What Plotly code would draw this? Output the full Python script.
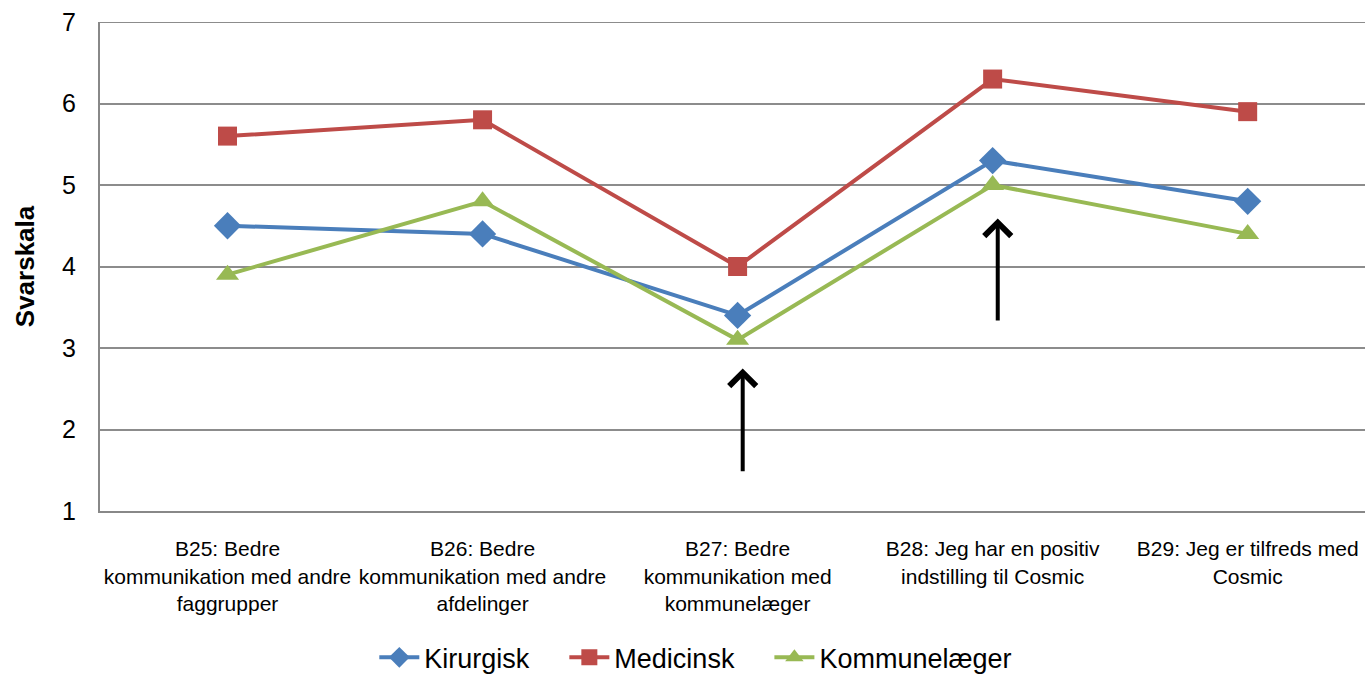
import plotly.graph_objects as go

categories = [
    "B25: Bedre<br>kommunikation med andre<br>faggrupper",
    "B26: Bedre<br>kommunikation med andre<br>afdelinger",
    "B27: Bedre<br>kommunikation med<br>kommunelæger",
    "B28: Jeg har en positiv<br>indstilling til Cosmic",
    "B29: Jeg er tilfreds med<br>Cosmic",
]
series_names = ["Kirurgisk", "Medicinsk", "Kommunelæger"]
kirurgisk = [4.5, 4.4, 3.4, 5.3, 4.8]
medicinsk = [5.6, 5.8, 4.0, 6.3, 5.9]
kommunelaeger = [3.9, 4.8, 3.1, 5.0, 4.4]
y_ticks = [1, 2, 3, 4, 5, 6, 7]

# arrows: (x index, tail y, tip y)
arrows = [(2.02, 1.47, 2.75), (3.02, 3.32, 4.59)]

xs = list(range(len(categories)))
pad = "\u00a0" * 4

fig = go.Figure()
fig.add_trace(go.Scatter(x=xs, y=kirurgisk, name=series_names[0] + pad, mode="lines+markers",
                         line=dict(color="#4A7EBB", width=4),
                         marker=dict(symbol="diamond", size=21, color="#4A7EBB")))
fig.add_trace(go.Scatter(x=xs, y=medicinsk, name=series_names[1] + pad, mode="lines+markers",
                         line=dict(color="#BE4B48", width=4),
                         marker=dict(symbol="square", size=19, color="#BE4B48")))
fig.add_trace(go.Scatter(x=xs, y=kommunelaeger, name=series_names[2], mode="lines+markers",
                         line=dict(color="#98B954", width=4),
                         marker=dict(symbol="triangle-up", size=20, color="#98B954")))

for ax_x, tail, tip in arrows:
    fig.add_annotation(x=ax_x, y=tip, ax=ax_x, ay=tail, xref="x", yref="y",
                       axref="x", ayref="y", showarrow=True, arrowhead=4,
                       arrowsize=1.3, arrowwidth=4, arrowcolor="black", text="")

# top gridline at the range end (plotly omits the gridline at the exact edge)
fig.add_shape(type="line", xref="paper", yref="y", x0=0, x1=1, y0=y_ticks[-1], y1=y_ticks[-1],
              line=dict(color="#8c8c8c", width=2), layer="below")

fig.update_layout(
    width=1365, height=676,
    margin=dict(l=100, r=0, t=22, b=165),
    paper_bgcolor="white", plot_bgcolor="white",
    font=dict(family="Liberation Sans, Arial, sans-serif", color="black"),
    showlegend=True,
    legend=dict(orientation="h", x=0.471, xanchor="center",
                yref="container", y=0.027, yanchor="middle",
                font=dict(size=27), itemwidth=40, tracegroupgap=0),
)
fig.update_xaxes(
    tickmode="array", tickvals=xs, ticktext=categories,
    range=[-0.5, 4.46], showgrid=False, zeroline=False, automargin=False,
    showline=True, linecolor="#888888", linewidth=2,
    ticks="", tickfont=dict(size=21), ticklabelstandoff=18,
)
fig.update_yaxes(
    range=[1, 7], tickmode="array", tickvals=y_ticks, automargin=False,
    showgrid=True, gridcolor="#8c8c8c", gridwidth=2, zeroline=False,
    showline=True, linecolor="#888888", linewidth=2,
    ticks="", tickfont=dict(size=25), ticklabelstandoff=17,
    title=dict(text="<b>Svarskala</b>", font=dict(size=26), standoff=20),
)

fig.write_html("out.html", config={"displayModeBar": False},
               post_script="document.body.style.margin='0';")
